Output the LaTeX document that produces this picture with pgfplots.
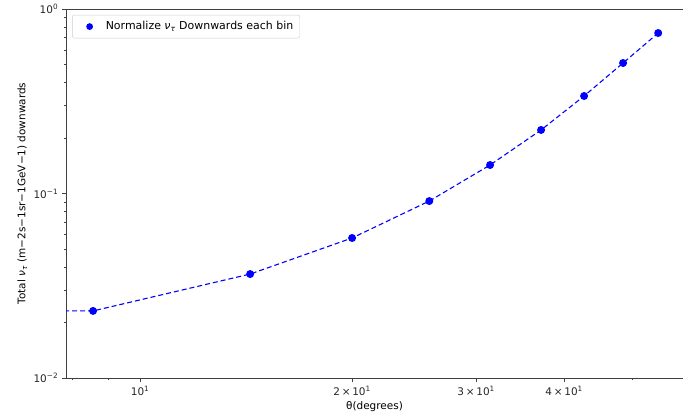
\documentclass[border=0pt]{standalone}
\usepackage{pgfplots}
\pgfplotsset{compat=1.18}
\usepackage{fontspec}
\setmainfont{DejaVu Sans}
\begin{document}
\fontsize{11}{13}\selectfont
\begin{tikzpicture}
\useasboundingbox (0bp,0bp) rectangle (683bp,420bp);
\begin{axis}[
  at={(66bp,42bp)}, anchor=south west,
  width=617bp, height=369bp, scale only axis,
  xmode=log, ymode=log,
  xmin=7.85, xmax=59.0,
  ymin=0.01, ymax=1,
  axis line style={black!75, line width=0.8pt},
  tick style={black!75, line width=0.6pt},
  tick align=outside,
  xtick pos=lower, ytick pos=left,
  major tick length=4bp, minor tick length=2.5bp,
  xtick={10,20,30,40},
  xticklabels={10\textsuperscript{1},2\,×\,10\textsuperscript{1},3\,×\,10\textsuperscript{1},4\,×\,10\textsuperscript{1}},
  minor xtick={8,9,50},
  ytick={0.01,0.1,1},
  yticklabels={10\textsuperscript{−2},10\textsuperscript{−1},10\textsuperscript{0}},
  minor ytick={0.02,0.03,0.04,0.05,0.06,0.07,0.08,0.09,0.2,0.3,0.4,0.5,0.6,0.7,0.8,0.9},
  ticklabel style={font=\fontsize{10.5}{12}\selectfont, text=black!85},
  xlabel={θ(degrees)},
  ylabel={Total \textit{ν}\textsubscript{\textit{τ}} (m−2s−1sr−1GeV−1) downwards},
  label style={font=\fontsize{10.5}{12}\selectfont},
  xlabel style={yshift=1bp},
  ylabel style={yshift=-1bp},
  legend style={at={(axis description cs:0.01,0.984)}, anchor=north west,
    draw=black!20, rounded corners=2pt, fill=white, font=\fontsize{11}{13}\selectfont,
    inner xsep=4.5bp, inner ysep=4.5bp, legend cell align=left},
  legend image code/.code={\path[draw=none,fill=none] (0cm,0cm) -- (0.95cm,0cm); \fill[blue,draw=none] (0.45cm,0cm) circle (3.4bp);},
  clip=true,
]
\addplot[blue, dashed, dash pattern=on 5bp off 3bp, line width=1.1pt,
  mark=*, mark size=3.4bp, mark options={solid, fill=blue, draw=blue}]
  coordinates {
  (5.0,0.0231)
  (8.575,0.0231)
  (14.33,0.0366)
  (20.0,0.0574)
  (25.74,0.091)
  (31.4,0.1427)
  (37.1,0.221)
  (42.7,0.3377)
  (48.5,0.5097)
  (54.4,0.741)
  };
\addlegendentry{Normalize \textit{ν}\textsubscript{\textit{τ}} Downwards each bin}
\end{axis}
\end{tikzpicture}
\end{document}
